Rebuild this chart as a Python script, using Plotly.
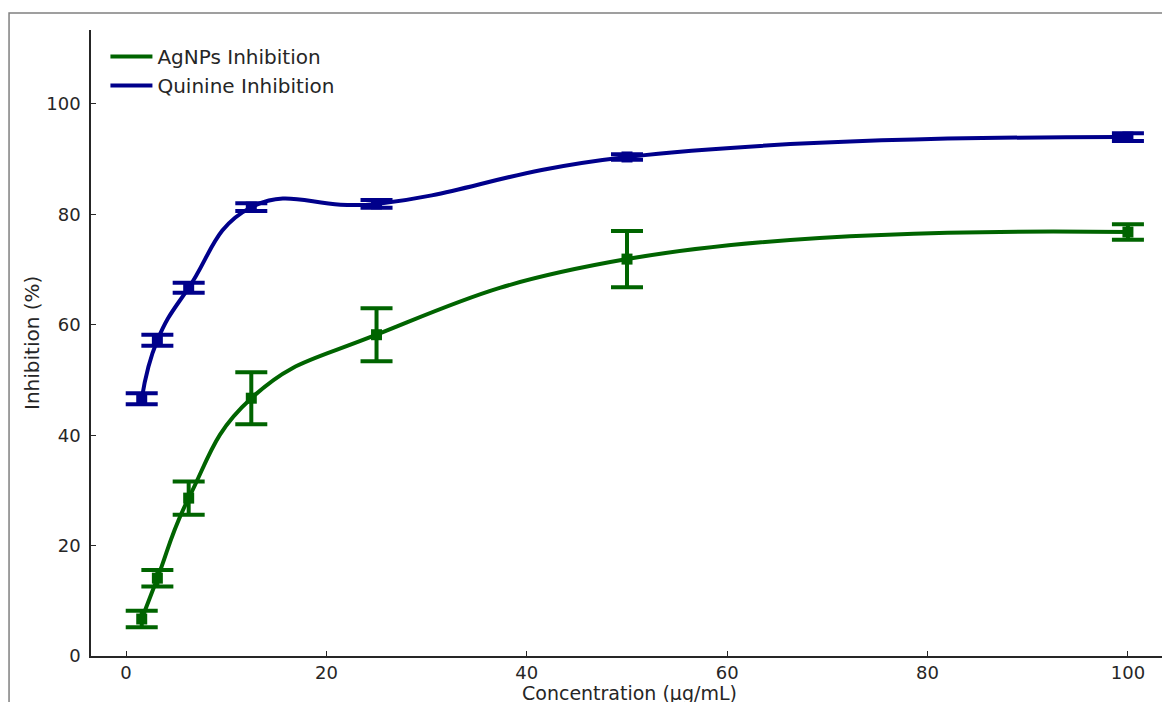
import plotly.graph_objects as go

concentration = [1.5625, 3.125, 6.25, 12.5, 25, 50, 100]
agnps_inhibition = [6.7, 14.1, 28.6, 46.7, 58.2, 71.9, 76.8]
agnps_error = [1.5, 1.5, 3.0, 4.7, 4.8, 5.1, 1.4]
quinine_inhibition = [46.6, 57.2, 66.7, 81.3, 81.9, 90.4, 94.0]
quinine_error = [1.0, 1.0, 0.9, 0.7, 0.7, 0.5, 0.7]
x_title = "Concentration (μg/mL)"
y_title = "Inhibition (%)"

GREEN = "#006400"
BLUE = "#00008B"
TXT = "#262626"
FONT = "DejaVu Sans"

fig = go.Figure()

for name, ys, errs, col in [
    ("AgNPs Inhibition", agnps_inhibition, agnps_error, GREEN),
    ("Quinine Inhibition", quinine_inhibition, quinine_error, BLUE),
]:
    fig.add_trace(go.Scatter(
        x=concentration, y=ys, mode="lines", name=name,
        line=dict(color=col, width=4, shape="spline", smoothing=1.3),
    ))
    fig.add_trace(go.Scatter(
        x=concentration, y=ys, mode="markers", showlegend=False,
        marker=dict(symbol="square", size=11, color=col),
        error_y=dict(type="data", array=errs, visible=True, color=col,
                     thickness=4, width=16),
    ))

# page body has an 8px margin, so margins are offset to land the axes where the reference has them
fig.update_layout(
    width=1170, height=702,
    margin=dict(l=83, r=10, t=22, b=54),
    paper_bgcolor="white", plot_bgcolor="white",
    font=dict(family=FONT, size=18, color=TXT),
    showlegend=True,
    legend=dict(x=0.0134, y=0.989, xanchor="left", yanchor="top",
                bgcolor="rgba(255,255,255,0)", font=dict(size=20, color=TXT),
                itemwidth=42, tracegroupgap=2),
    xaxis=dict(range=[-3.5, 104], tickvals=[0, 20, 40, 60, 80, 100],
               automargin=False,
               showgrid=False, zeroline=False, showline=True, linecolor=TXT,
               linewidth=1.5, ticks="inside", ticklen=5, tickcolor=TXT,
               tickfont=dict(size=18, color=TXT)),
    yaxis=dict(range=[0, 113.4], tickvals=[0, 20, 40, 60, 80, 100],
               automargin=False,
               showgrid=False, zeroline=False, showline=True, linecolor=TXT,
               linewidth=1.5, ticks="inside", ticklen=5, tickcolor=TXT,
               ticklabelstandoff=5,
               tickfont=dict(size=18, color=TXT)),
    annotations=[
        dict(text=x_title, xref="paper", yref="paper", x=0.5, y=-0.0595,
             xanchor="center", yanchor="middle", showarrow=False,
             font=dict(size=19, color=TXT)),
        dict(text=y_title, xref="paper", yref="paper", x=-0.0548, y=0.5,
             xanchor="center", yanchor="middle", showarrow=False,
             textangle=-90, font=dict(size=20, color=TXT)),
    ],
)

fig.add_shape(type="rect", xref="paper", yref="paper",
              x0=-0.0761, x1=1.2, y0=-0.2, y1=1.027,
              line=dict(color="#808080", width=1.5), fillcolor="rgba(0,0,0,0)",
              layer="below")

fig.write_html("out.html")
